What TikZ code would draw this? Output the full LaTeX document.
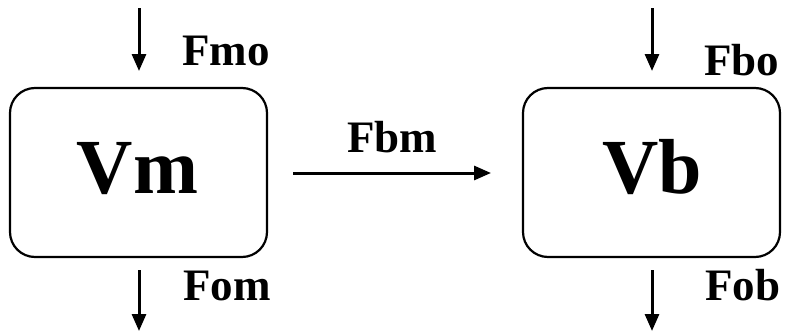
\documentclass[tikz,border=0pt]{standalone}
\usepackage{fontspec}
\setmainfont{Liberation Serif}[BoldFont={Liberation Serif Bold}]
\usetikzlibrary{arrows.meta}
\begin{document}
\begin{tikzpicture}[x=1pt,y=-1pt,
  tank/.style={draw,line width=2.2pt,rounded corners=25pt,minimum width=257pt,minimum height=169pt,inner sep=0pt},
  big/.style={inner sep=0pt,anchor=base,font=\fontsize{78}{80}\selectfont\bfseries},
  lbl/.style={inner sep=0pt,anchor=base west,font=\fontsize{45}{46}\selectfont\bfseries},
  flow/.style={line width=3pt,-{Triangle[length=17pt,width=14pt]}}]
\useasboundingbox (0,0) rectangle (790,332);
\node[tank] (vm) at (138.5,172.5) {};
\node[big] (vmt) at (137.5,193) {Vm};
\node[tank] (vb) at (651.5,172.5) {};
\node[big] (vbt) at (652,193) {Vb};
\coordinate (mtop) at (139,8);
\coordinate (mtopend) at (139,71);
\coordinate (mbot) at (139,270);
\coordinate (mbotend) at (139,331);
\coordinate (btop) at (652,8);
\coordinate (btopend) at (652,71);
\coordinate (bbot) at (652,270);
\coordinate (bbotend) at (652,331);
\coordinate (fs) at (293,173);
\coordinate (fe) at (491,173);
\draw[flow] (mtop) -- (mtopend);
\draw[flow] (mbot) -- (mbotend);
\draw[flow] (btop) -- (btopend);
\draw[flow] (bbot) -- (bbotend);
\draw[flow] (fs) -- (fe);
\node[lbl] (fmo) at (182,65) {Fmo};
\node[lbl] (fom) at (183,300) {Fom};
\node[lbl] (fbo) at (704,75) {Fbo};
\node[lbl] (fob) at (705,300) {Fob};
\node[lbl] (fbm) at (347,152) {Fbm};
\end{tikzpicture}
\end{document}
